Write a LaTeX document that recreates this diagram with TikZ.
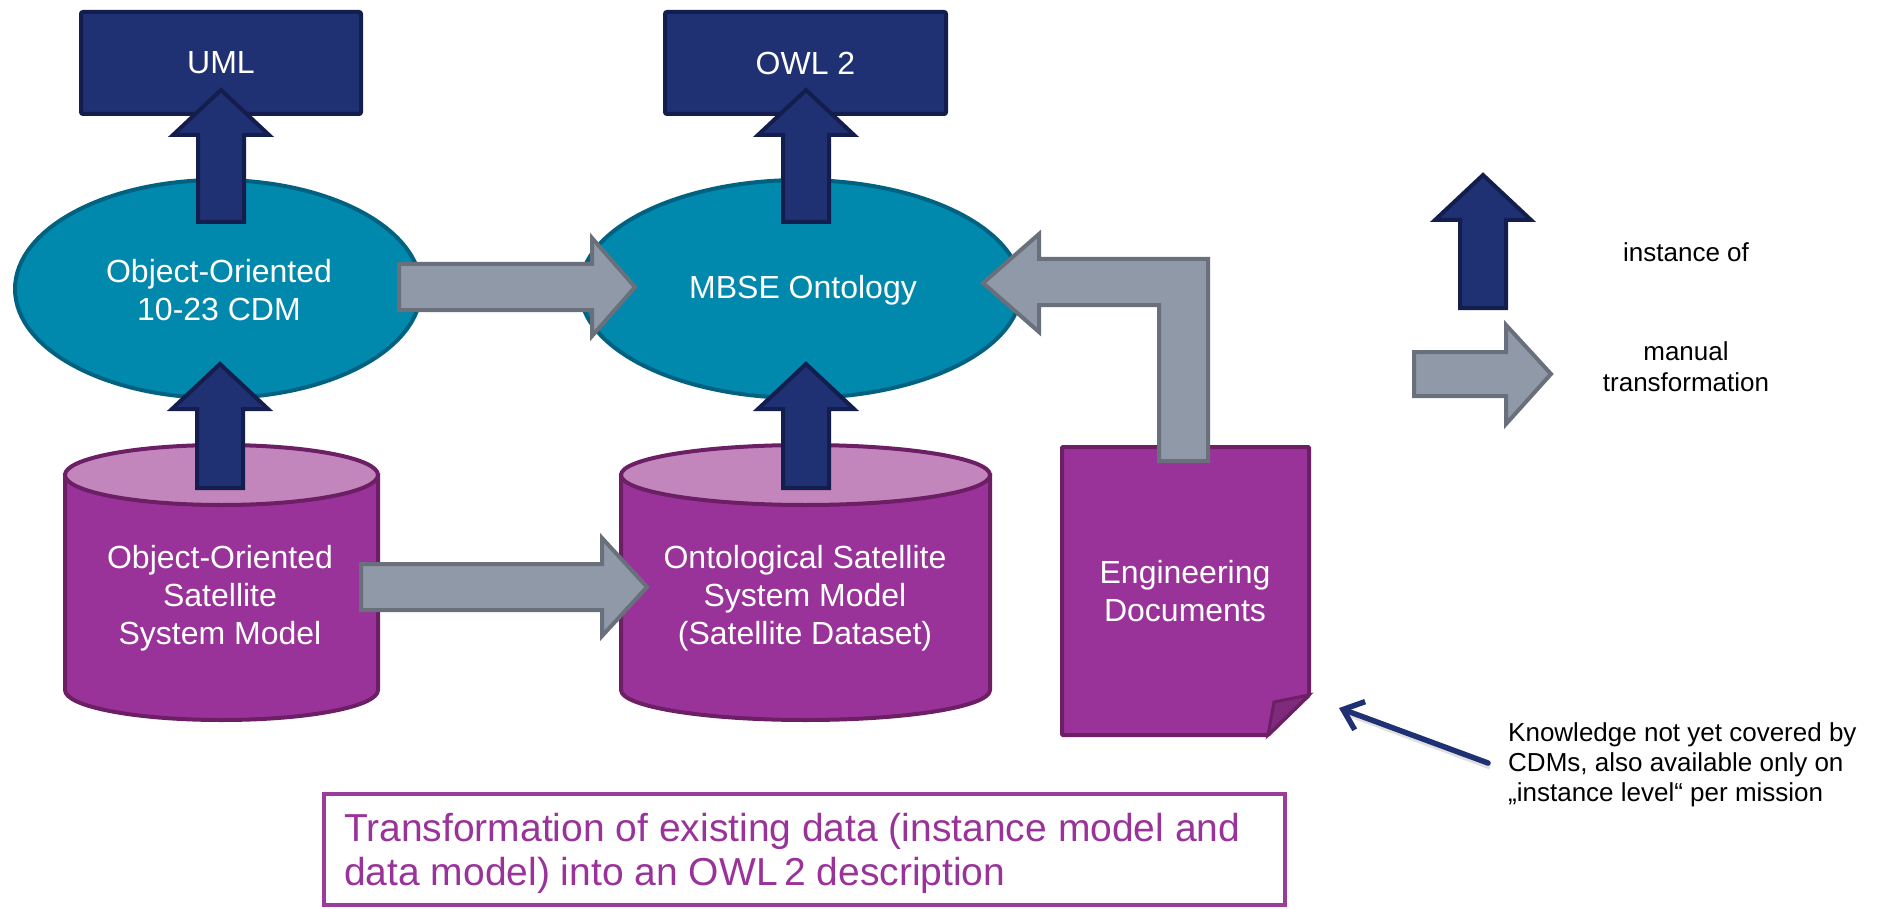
\documentclass[tikz,border=0pt]{standalone}
\usepackage{fontspec}
\setmainfont{Liberation Sans}
\usetikzlibrary{shapes.geometric,arrows.meta}
\definecolor{navyfill}{HTML}{1F3173}
\definecolor{navyline}{HTML}{141E4E}
\definecolor{tealfill}{HTML}{0088AD}
\definecolor{tealline}{HTML}{006180}
\definecolor{greyfill}{HTML}{8F99A7}
\definecolor{greyline}{HTML}{6A707B}
\definecolor{purplefill}{HTML}{993399}
\definecolor{purpletop}{HTML}{C285BC}
\definecolor{purpleline}{HTML}{6D1F66}
\definecolor{foldfill}{HTML}{7E2A7D}
\definecolor{boxline}{HTML}{9B3C98}
\newcommand{\blockup}[5]{%
  \draw[#1] (#2,#3) -- ({#2+48},#4) -- ({#2+23},#4) -- ({#2+23},#5) -- ({#2-23},#5) -- ({#2-23},#4) -- ({#2-48},#4) -- cycle;}
\newcommand{\blockright}[5]{%
  \draw[#1] (#2,{#5-23}) -- (#3,{#5-23}) -- (#3,{#5-49}) -- (#4,#5) -- (#3,{#5+49}) -- (#3,{#5+23}) -- (#2,{#5+23}) -- cycle;}
\begin{document}
\begin{tikzpicture}[x=1pt,y=-1pt,line join=miter,
  navyarrow/.style={fill=navyfill,draw=navyline,line width=4pt},
  greyarrow/.style={fill=greyfill,draw=greyline,line width=4pt},
  navybox/.style={rectangle,rounded corners=2pt,fill=navyfill,draw=navyline,line width=4pt,
    minimum height=102pt,inner sep=0pt,text=white,font=\fontsize{32}{38}\selectfont},
  oval/.style={ellipse,fill=tealfill,draw=tealline,line width=4pt,minimum height=218pt,inner sep=0pt},
  lbl/.style={text=white,font=\fontsize{32}{38}\selectfont,align=center},
  cylbody/.style={fill=purplefill,draw=purpleline,line width=4pt},
  cyltop/.style={fill=purpletop,draw=purpleline,line width=4pt},
  legend/.style={text=black,font=\fontsize{26}{31}\selectfont,align=center}]
\useasboundingbox (0,0) rectangle (1889,909);

% top boxes
\node[navybox,minimum width=280pt] (uml) at (221,63) {UML};
\node[navybox,minimum width=281pt] (owl) at (805.5,63) {OWL 2};

% ellipses
\node[oval,minimum width=406pt] (cdm) at (218,289) {};
\node[lbl] (cdmtext) at (219,290) {Object-Oriented\\10-23 CDM};
\node[oval,minimum width=441pt] (mbse) at (800.5,289) {};
\node[lbl] (mbsetext) at (803,290) {MBSE Ontology};

% cylinder 1
\path[cylbody] (65,475) -- (65,690) arc[start angle=180,end angle=0,x radius=156.5,y radius=30] -- (378,475) -- cycle;
\draw[cyltop] (221.5,475) ellipse[x radius=156.5,y radius=30];
\node[lbl] (oosm) at (220,598) {Object-Oriented\\Satellite\\System Model};

% cylinder 2
\path[cylbody] (621,475) -- (621,690) arc[start angle=180,end angle=0,x radius=184.5,y radius=30] -- (990,475) -- cycle;
\draw[cyltop] (805.5,475) ellipse[x radius=184.5,y radius=30];
\node[lbl] (ossm) at (805,598) {Ontological Satellite\\System Model\\(Satellite Dataset)};

% engineering documents
\draw[fill=purplefill,draw=purpleline,line width=4pt,rounded corners=1pt]
  (1062,447) -- (1309,447) -- (1309,695) -- (1268,735) -- (1062,735) -- cycle;
\draw[fill=foldfill,draw=purpleline,line width=3pt] (1309,695) -- (1274,702) -- (1268,735) -- cycle;
\node[lbl] (docs) at (1185,591) {Engineering\\Documents};

% instance-of arrows
\blockup{navyarrow}{221}{90}{135}{222}
\blockup{navyarrow}{806}{90}{135}{222}
\blockup{navyarrow}{220}{364}{409}{488}
\blockup{navyarrow}{806}{364}{409}{488}

% manual transformation arrows
\blockright{greyarrow}{399}{592}{635}{287}
\blockright{greyarrow}{361}{602}{647}{587}
\draw[greyarrow] (983,283) -- (1039,234) -- (1039,259) -- (1208,259) -- (1208,461)
  -- (1159,461) -- (1159,305) -- (1039,305) -- (1039,332) -- cycle;

% legend
\blockup{navyarrow}{1483}{175}{220}{308}
\draw[greyarrow] (1414,352) -- (1506,352) -- (1506,325) -- (1551,374) -- (1506,424) -- (1506,396) -- (1414,396) -- cycle;
\node[legend] (leginst) at (1686,252) {instance of};
\node[legend] (legman) at (1686,367) {manual\\transformation};

% note
\node[anchor=west,text=black,font=\fontsize{26}{30}\selectfont,align=left,inner sep=0pt] (note) at (1508,765)
  {Knowledge not yet covered by\\CDMs, also available only on\\„instance level“ per mission};
\coordinate (notetail) at (1488,763);
\coordinate (docpoint) at (1339,708);
\draw[black!25,line width=5pt,opacity=0.5] (1490,767) -- (1345,713);
\draw[navyfill,line width=5.5pt,line cap=round,-{Straight Barb[length=18pt,width=30pt]}] (notetail) -- (docpoint);

% summary box
\node[draw=boxline,line width=4pt,minimum width=961pt,minimum height=111pt,inner sep=0pt] (summary) at (804.5,849.5) {};
\node[anchor=west,text=purplefill,font=\fontsize{39}{44}\selectfont,align=left,inner sep=0pt] (summarytext) at (344,853)
  {Transformation of existing data (instance model and\\data model) into an OWL\,2 description};
\end{tikzpicture}
\end{document}
